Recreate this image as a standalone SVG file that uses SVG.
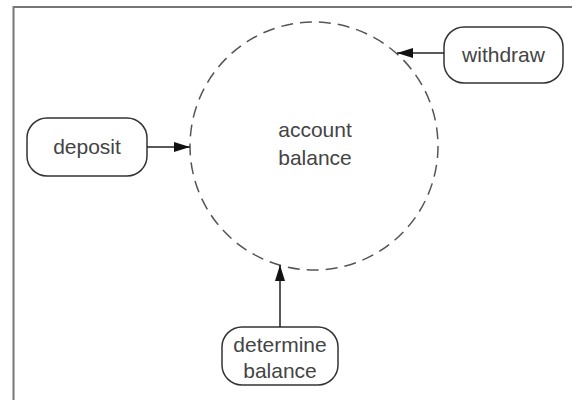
<svg xmlns="http://www.w3.org/2000/svg" width="572" height="400" viewBox="0 0 572 400">
<style>
.box{fill:#fff;stroke:#333;stroke-width:1.5}
.lbl{font-family:"Liberation Sans",Arial,sans-serif;font-size:21px;fill:#444;text-anchor:middle}
.conn{stroke:#222;stroke-width:1.5;fill:none}
</style>
<defs>
<marker id="ah" viewBox="0 0 16 10" refX="16" refY="5" markerWidth="16" markerHeight="10" markerUnits="userSpaceOnUse" orient="auto">
<path d="M0,0 L16,5 L0,10 Z" fill="#111"/>
</marker>
</defs>
<rect x="0" y="0" width="572" height="400" fill="#fff"/>
<rect x="13.5" y="7" width="600" height="420" fill="none" stroke="#777" stroke-width="2"/>
<g id="account-balance">
<circle cx="314" cy="146" r="124" fill="none" stroke="#555" stroke-width="1.5" stroke-dasharray="12 7"/>
<text class="lbl" x="315" y="137">account</text>
<text class="lbl" x="315" y="165">balance</text>
</g>
<g id="deposit">
<rect class="box" x="27" y="118" width="120" height="58" rx="20"/>
<text class="lbl" x="87" y="154">deposit</text>
</g>
<g id="withdraw">
<rect class="box" x="444" y="27" width="119" height="56" rx="20"/>
<text class="lbl" x="503.5" y="62">withdraw</text>
</g>
<g id="determine-balance">
<rect class="box" x="222" y="327" width="116" height="58" rx="20"/>
<text class="lbl" x="280" y="351.5">determine</text>
<text class="lbl" x="280" y="378">balance</text>
</g>
<g id="connectors">
<line class="conn" x1="147" y1="147" x2="190" y2="147" marker-end="url(#ah)"/>
<line class="conn" x1="444" y1="53" x2="397" y2="53" marker-end="url(#ah)"/>
<line class="conn" x1="280" y1="327" x2="280" y2="265" marker-end="url(#ah)"/>
</g>
</svg>
